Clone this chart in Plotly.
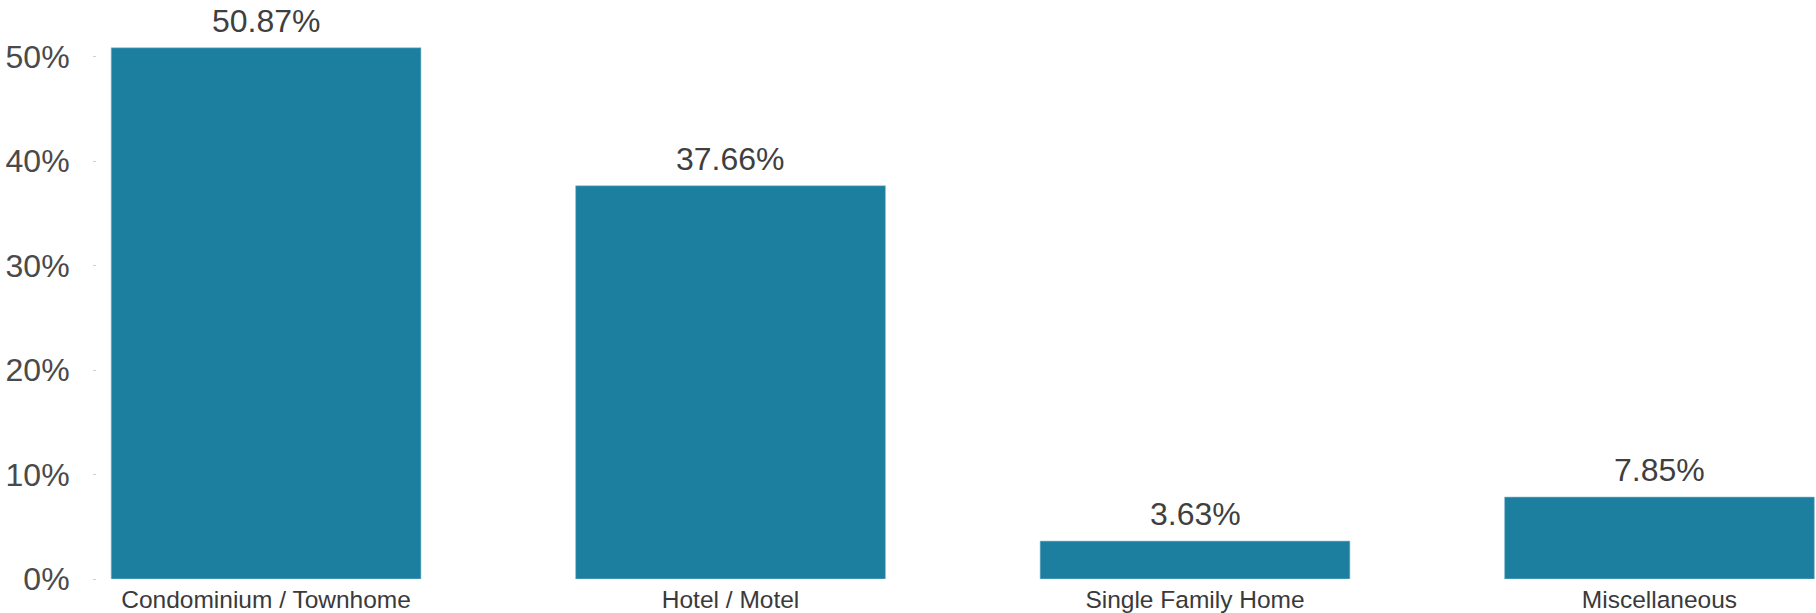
import plotly.graph_objects as go

categories = ["Condominium / Townhome", "Hotel / Motel", "Single Family Home", "Miscellaneous"]
shares = [50.87, 37.66, 3.63, 7.85]
y_ticks = [0, 10, 20, 30, 40, 50]
y_tick_labels = ["0%", "10%", "20%", "30%", "40%", "50%"]

BAR_COLOR = "#1d7fa0"
FONT = "Liberation Sans, Arial, sans-serif"

fig = go.Figure(
    go.Bar(
        x=categories,
        y=shares,
        width=0.667,
        marker=dict(color=BAR_COLOR, line=dict(color="#8fc3d4", width=0.6)),
        hoverinfo="skip",
    )
)

for cat, val in zip(categories, shares):
    fig.add_annotation(
        x=cat, y=val, text=f"{val:.2f}%",
        showarrow=False, yanchor="bottom", yshift=7,
        font=dict(family=FONT, size=32, color="#3f3f3f"),
    )

fig.update_layout(
    width=1816, height=613,
    margin=dict(l=97, r=0, t=0, b=32),
    paper_bgcolor="white", plot_bgcolor="white",
    showlegend=False,
    xaxis=dict(
        range=[-0.364, 3.337],
        showgrid=False, zeroline=False, showline=False,
        ticks="", ticklabelstandoff=3,
        tickfont=dict(family=FONT, size=24.5, color="#3a3a3a"),
    ),
    yaxis=dict(
        range=[0, 55.44],
        tickvals=y_ticks, ticktext=y_tick_labels,
        showgrid=False, zeroline=False, showline=False,
        ticks="outside", ticklen=3, tickcolor="#d0d0d0", tickwidth=1,
        ticklabelstandoff=17,
        tickfont=dict(family=FONT, size=32, color="#4a4a4a"),
    ),
)

fig.write_html("out.html")
